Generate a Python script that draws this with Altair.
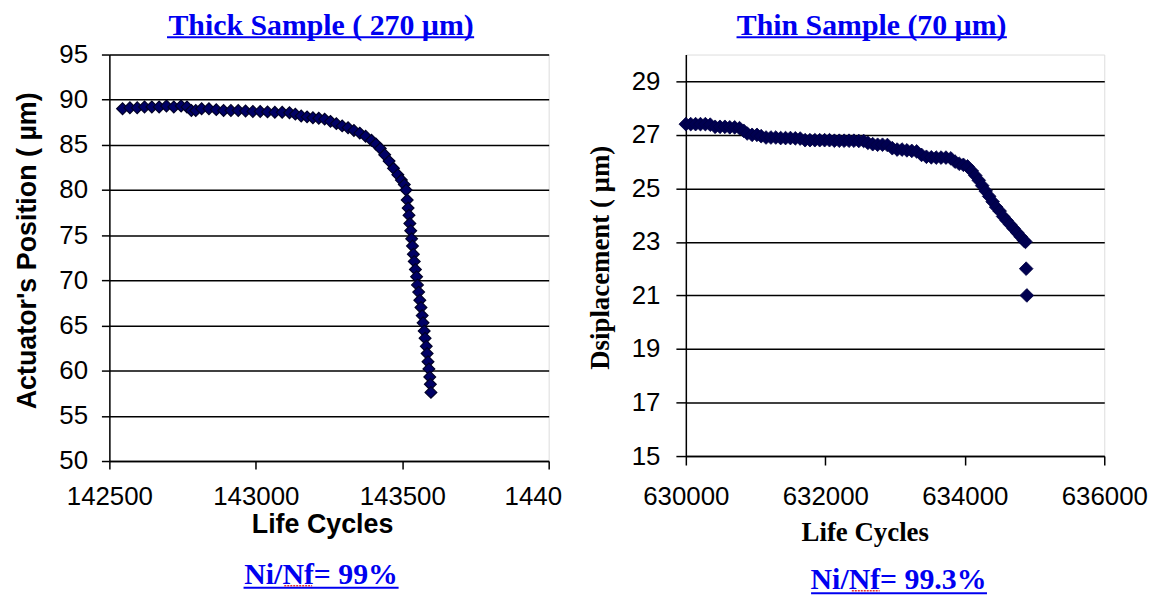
import altair as alt
import pandas as pd

# ---------------- data ----------------
thick_cycles = [142545, 142570, 142595, 142620, 142645, 142670, 142695, 142720, 142745, 142765,
                142780, 142795, 142815, 142840, 142865, 142890, 142915, 142940, 142965, 142990,
                143015, 143040, 143065, 143090, 143115, 143135, 143155, 143175, 143195, 143215,
                143235, 143255, 143275, 143295, 143315, 143335, 143355, 143375, 143395, 143410,
                143425, 143440, 143455, 143470, 143485, 143497, 143507, 143513,
                143517, 143520, 143523, 143526, 143529, 143532, 143535, 143538, 143541, 143545,
                143549, 143552, 143556, 143560, 143564, 143568, 143571, 143575, 143578, 143582,
                143585, 143588, 143591, 143594, 143596, 143598]
thick_pos = [89.0, 89.1, 89.1, 89.2, 89.2, 89.2, 89.3, 89.2, 89.3, 89.2,
             88.8, 88.8, 89.0, 89.0, 88.9, 88.8, 88.8, 88.8, 88.75, 88.7,
             88.7, 88.65, 88.6, 88.6, 88.55, 88.4, 88.2, 88.1, 88.0, 87.95,
             87.85, 87.6, 87.35, 87.1, 86.9, 86.6, 86.3, 85.95, 85.5, 85.1,
             84.6, 83.9, 83.2, 82.4, 81.7, 81.1, 80.6, 80.0,
             78.9, 78.0, 77.2, 76.3, 75.5, 74.6, 73.8, 72.9, 72.1, 71.2,
             70.4, 69.5, 68.7, 67.8, 67.0, 66.1, 65.3, 64.4, 63.6, 62.7,
             61.9, 61.0, 60.2, 59.3, 58.5, 57.6]

thin_cycles = [630000, 630070, 630140, 630210, 630280, 630350,
               630420, 630490, 630560, 630630, 630700, 630770,
               630830, 630880, 630950, 631020, 631080,
               631150, 631220, 631290, 631360, 631430, 631500, 631570, 631640,
               631710, 631780, 631850, 631920, 631990, 632060, 632130, 632200, 632270,
               632340, 632410, 632480, 632550,
               632610, 632680, 632750, 632820, 632890,
               632960, 633030, 633100, 633170, 633240, 633310,
               633380, 633450, 633520, 633590, 633660, 633730, 633800,
               633860, 633920, 633980, 634040, 634100, 634150, 634200, 634250, 634300,
               634350, 634400, 634450, 634500, 634550, 634600, 634650, 634700, 634750,
               634800, 634850, 634870,
               634880, 634890]
thin_disp = [27.4, 27.4, 27.4, 27.4, 27.4, 27.38,
             27.3, 27.3, 27.3, 27.28, 27.28, 27.25,
             27.15, 27.05, 27.0, 27.0, 26.95,
             26.9, 26.9, 26.9, 26.88, 26.88, 26.88, 26.87, 26.86,
             26.8, 26.8, 26.8, 26.8, 26.8, 26.8, 26.78, 26.78, 26.78,
             26.78, 26.78, 26.77, 26.77,
             26.7, 26.65, 26.63, 26.63, 26.62,
             26.5, 26.45, 26.45, 26.42, 26.4, 26.38,
             26.25, 26.18, 26.16, 26.15, 26.15, 26.15, 26.12,
             26.0, 25.92, 25.88, 25.82, 25.65, 25.48, 25.3, 25.1, 24.9,
             24.7, 24.5, 24.3, 24.15, 23.95, 23.8, 23.65, 23.5, 23.35,
             23.2, 23.05, 23.0,
             22.0, 21.0]

left_x_ticks = [142500, 143000, 143500, 144000]
left_y_ticks = [50, 55, 60, 65, 70, 75, 80, 85, 90, 95]
right_x_ticks = [630000, 632000, 634000, 636000]
right_y_ticks = [15, 17, 19, 21, 23, 25, 27, 29]

LEFT_TITLE = "Thick Sample ( 270 µm)"
RIGHT_TITLE = "Thin Sample (70 µm)"
LEFT_NOTE = "Ni/Nf= 99%"
RIGHT_NOTE = "Ni/Nf= 99.3%"
LEFT_Y_TITLE = "Actuator's Position ( µm)"
RIGHT_Y_TITLE = "Dsiplacement ( µm)"
X_TITLE = "Life Cycles"

# ---------------- styles ----------------
SANS = "Liberation Sans"
SERIF = "Liberation Serif"
BLUE = "#0000f0"
NAVY = "#000066"

LW, LH = 442, 409
RW, RH = 421, 404


def text_mark(txt, x, y, font, size, color):
    return alt.Chart(pd.DataFrame({"t": [txt]})).mark_text(
        font=font, fontSize=size, fontWeight="bold", color=color,
        align="center", baseline="alphabetic"
    ).encode(text="t:N", x=alt.value(x), y=alt.value(y))


def rule_mark(x1, x2, y, color, width=2, dash=None):
    kw = dict(color=color, strokeWidth=width)
    if dash:
        kw["strokeDash"] = dash
    return alt.Chart(pd.DataFrame({"a": [0]})).mark_rule(**kw).encode(
        x=alt.value(x1), x2=alt.value(x2), y=alt.value(y))


common_axis = dict(labelColor="black", tickColor="black", domainColor="black",
                   tickWidth=1.5, domainWidth=1.5, labelFlush=False, labelOverlap=False,
                   titleColor="black", titleFontWeight="bold", titleAlign="center",
                   titleBaseline="middle")

# ---------------- left panel ----------------
left_df = pd.DataFrame({"cycles": thick_cycles, "pos": thick_pos})
left_pts = alt.Chart(left_df).mark_point(
    shape="diamond", filled=True, size=140, fill=NAVY, stroke="#000028",
    strokeWidth=1.2, opacity=1
).encode(
    x=alt.X("cycles:Q", scale=alt.Scale(domain=[142500, 144000], nice=False, zero=False),
            axis=alt.Axis(values=left_x_ticks, format="d", grid=False,
                          labelFont=SANS, labelFontSize=26, tickSize=8,
                          labelBaseline="middle", labelPadding=28,
                          labelExpr="datum.value == 144000 ? '1440' : datum.label",
                          labelOffset={"condition": {"test": "datum.value == 144000", "value": -16},
                                       "value": 0},
                          title=X_TITLE, titleFont=SANS, titleFontSize=27,
                          titleX=214, titleY=64, **common_axis)),
    y=alt.Y("pos:Q", scale=alt.Scale(domain=[50, 95], nice=False, zero=False),
            axis=alt.Axis(values=left_y_ticks, grid=True, gridColor="black", gridWidth=1.5,
                          gridOpacity=1, labelFont=SANS, labelFontSize=26, tickSize=8,
                          labelPadding=14, title=LEFT_Y_TITLE, titleFont=SANS,
                          titleFontSize=27, titleAngle=270, titleX=-82, titleY=197,
                          **common_axis)),
)

left = alt.layer(
    left_pts,
    text_mark(LEFT_TITLE, 213, -20, SERIF, 30, BLUE),
    rule_mark(58, 367, -17.5, BLUE),
    text_mark(LEFT_NOTE, 213, 533, SERIF, 30, BLUE),
    rule_mark(135, 291, 536.5, BLUE),
    rule_mark(176, 204, 534.5, "#e03030", 1.5, [2, 1]),
).properties(width=LW, height=LH)

# ---------------- right panel ----------------
right_df = pd.DataFrame({"cycles": thin_cycles, "disp": thin_disp})
right_pts = alt.Chart(right_df).mark_point(
    shape="diamond", filled=True, size=190, fill="#000050", stroke="#000040",
    strokeWidth=0.8, opacity=1
).encode(
    x=alt.X("cycles:Q", scale=alt.Scale(domain=[630000, 636000], nice=False, zero=False),
            axis=alt.Axis(values=right_x_ticks, format="d", grid=False,
                          labelFont=SANS, labelFontSize=26, tickSize=9,
                          labelBaseline="middle", labelPadding=32,
                          title=X_TITLE, titleFont=SERIF, titleFontSize=27,
                          titleX=180, titleY=77, **common_axis)),
    y=alt.Y("disp:Q", scale=alt.Scale(domain=[15, 30], nice=False, zero=False),
            axis=alt.Axis(values=right_y_ticks, grid=True, gridColor="black", gridWidth=1.5,
                          gridOpacity=1, labelFont=SANS, labelFontSize=26, tickSize=10,
                          labelPadding=16, title=RIGHT_Y_TITLE, titleFont=SERIF,
                          titleFontSize=27, titleAngle=270, titleX=-86, titleY=204,
                          **common_axis)),
)

right = alt.layer(
    right_pts,
    text_mark(RIGHT_TITLE, 187, -20, SERIF, 30, BLUE),
    rule_mark(51, 323, -17.5, BLUE),
    text_mark(RIGHT_NOTE, 214, 538, SERIF, 30, BLUE),
    rule_mark(126, 303, 542, BLUE),
    rule_mark(167, 195, 539.5, "#e03030", 1.5, [2, 1]),
).properties(width=RW, height=RH)

chart = alt.hconcat(left, right, spacing=23).properties(
    padding={"left": 5, "top": 0, "right": 0, "bottom": 0}
).configure_view(stroke="black", strokeWidth=1.5).configure(background="white")

chart.save("out.html", embed_options={"renderer": "svg", "actions": False})
